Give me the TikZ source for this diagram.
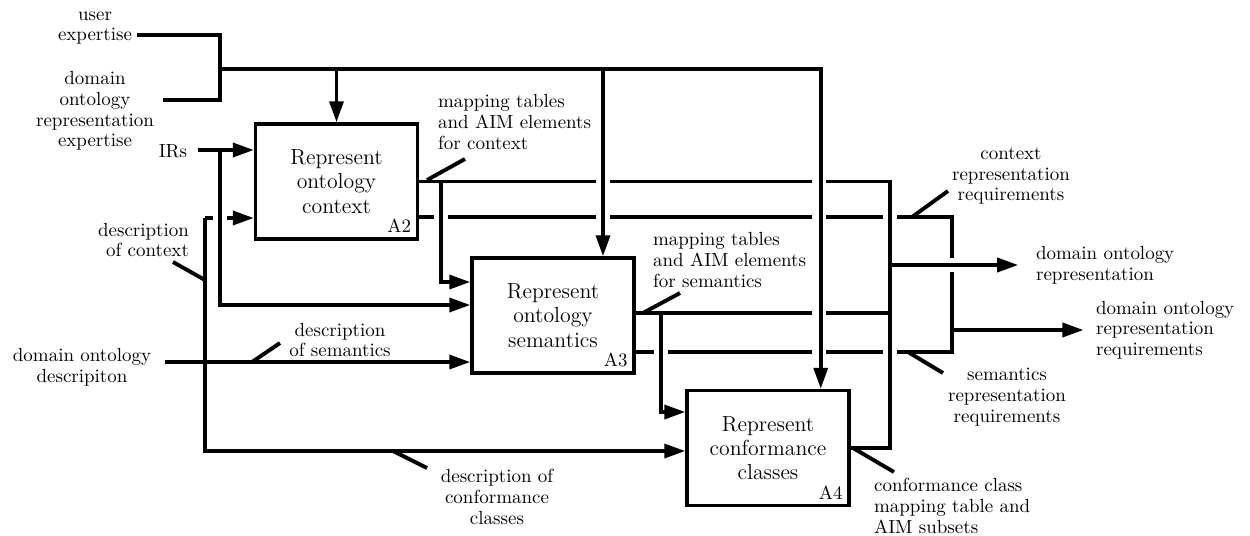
\documentclass[tikz,border=0pt]{standalone}
\usepackage{tikz}
\usetikzlibrary{arrows.meta,calc,positioning}

\tikzset{
  proc/.style={draw,line width=2pt,minimum width=3.24cm,minimum height=2.3cm,inner sep=0pt,align=center,font=\fontsize{12.4}{13.8}\selectfont},
  lbl/.style={font=\fontsize{10.8}{11.8}\selectfont,inner sep=1pt},
  wire/.style={line width=2pt},
  flow/.style={wire,-{Triangle[length=4.2mm,width=2.8mm]}},
  tick/.style={line width=2.2pt},
}

\begin{document}
\begin{tikzpicture}[x=0.02cm,y=-0.02cm]
\useasboundingbox (0,0) rectangle (1250,535);

% activity boxes
\node[proc] (A2) at (336.5,181.5) {Represent\\ontology\\context};
\node[proc] (A3) at (553,315.5) {Represent\\ontology\\semantics};
\node[proc] (A4) at (768,448) {Represent\\conformance\\classes};
\node[lbl,anchor=south east] (A2id) at ($(A2.south east)+(-6,-6)$) {A2};
\node[lbl,anchor=south east] (A3id) at ($(A3.south east)+(-6,-6)$) {A3};
\node[lbl,anchor=south east] (A4id) at ($(A4.south east)+(-6,-6)$) {A4};

% labels
\node[lbl,align=center] (ue) at (95,28) {user\\expertise};
\node[lbl,align=center] (dore) at (95,111) {domain\\ontology\\representation\\expertise};
\node[lbl] (irs) at (173,151) {IRs};
\node[lbl,align=right,anchor=east] (dctx) at (191,240) {description\\of context};
\node[lbl,align=center] (dod) at (82,367) {domain ontology\\descripiton};
\node[lbl,align=center] (dsem) at (340,340) {description\\of semantics};
\node[lbl,align=center] (dconf) at (497,497) {description of\\conformance\\classes};
\node[lbl,align=left,anchor=west] (mctx) at (436,122) {mapping tables\\and AIM elements\\for context};
\node[lbl,align=left,anchor=west] (msem) at (651,260) {mapping tables\\and AIM elements\\for semantics};
\node[lbl,align=center] (creq) at (1011,176) {context\\representation\\requirements};
\node[lbl,align=left,anchor=west] (dor) at (1034,265) {domain ontology\\representation};
\node[lbl,align=left,anchor=west] (dorr) at (1094,330) {domain ontology\\representation\\requirements};
\node[lbl,align=center] (sreq) at (1007,397) {semantics\\representation\\requirements};
\node[lbl,align=left,anchor=west] (cmap) at (872,506) {conformance class\\mapping table and\\AIM subsets};

% junction points
\coordinate (ueE) at (137,35);
\coordinate (doreE) at (163,100);
\coordinate (bus) at (220,69);
\coordinate (c3) at ($(A3.north)+(50,0)$);
\coordinate (c4) at ($(A4.north east)+(-30,0)$);
\coordinate (irsB) at (220,150);
\coordinate (dctxT) at (205,218);
\coordinate (dodE) at (165,362);
\coordinate (mrg) at (890,265);
\coordinate (mrg2) at (952,330);

% outputs
\draw[wire] (A2.east) -| (mrg |- A4.east) -- (A4.east);
\draw[wire] (A2.east |- 0,217) -| (mrg2 |- 0,352) -- (A3.east |- 0,352);
\draw[wire] (A3.east |- 0,313) -- (mrg |- 0,313);

% inputs
\draw[wire] (ueE) -| (doreE -| bus) -- (doreE);
\draw[flow] ([xshift=5pt]irs.east |- irsB) -- (A2.west |- irsB);
\draw[flow] (dctxT) -- (A2.west |- dctxT);
\draw[flow] (dctxT) |- (A4.west |- 0,451);
\draw[flow] (dodE) -- (A3.west |- dodE);

% breaks where lines cross
\foreach \x/\y in {220/218,441/217,603/180,603/217,819/180,819/217,819/313,819/352,661/352,890/217,890/352}
  \fill[white] (\x,\y) ++(-7,-3.5) rectangle ++(14,7);

% controls and feedback
\draw[flow] (bus) -| (c4);
\draw[flow] (bus -| A2.north) -- (A2.north);
\draw[flow] (bus -| c3) -- (c3);
\draw[flow] (irsB) |- (A3.west |- 0,305);
\draw[flow] (A2.east -| 441,0) |- (A3.west |- 0,282);
\draw[flow] (A3.east -| 661,0) ++(0,-2.5) |- (A4.west |- 0,412);
\draw[wire] (mrg |- A2.east) -- (mrg |- A4.east);
\fill[white] (mrg2 |- mrg) ++(-3.5,-7) rectangle ++(7,14);
\draw[flow] (mrg) -- ([xshift=-9pt]dor.west);
\draw[flow] (mrg2) -- ([xshift=-6pt]dorr.west);

% label ticks
\draw[tick] (427,180) -- (465,159);
\draw[tick] (643,313) -- (680,293);
\draw[tick] (912,217) -- (948,191);
\draw[tick] (908,352) -- (943,373);
\draw[tick] (173,262) -- (dctxT |- 0,280);
\draw[tick] (252,362) -- (280,343);
\draw[tick] (393,451) -- (427,468);
\draw[tick] (853,448) -- (894,472);
\end{tikzpicture}
\end{document}
